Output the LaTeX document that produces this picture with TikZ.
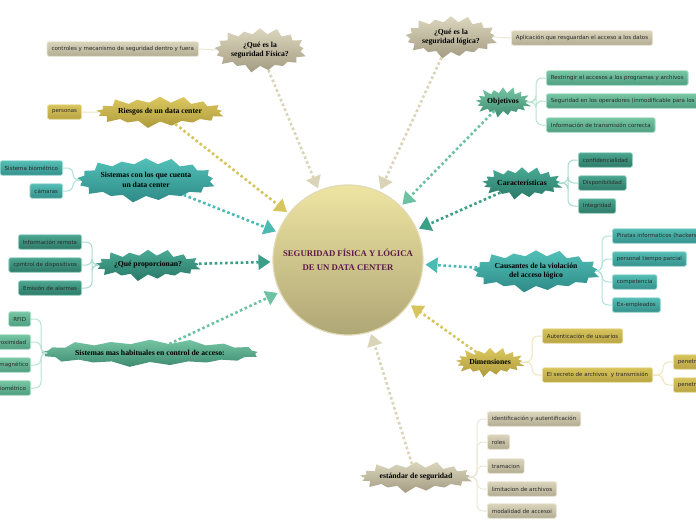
\documentclass[tikz,border=0pt]{standalone}
\usepackage{fontspec}
\setmainfont{DejaVu Sans}
\newfontfamily\titlefont{Liberation Serif}
\usetikzlibrary{shapes.symbols,arrows.meta,calc}

\definecolor{bgT}{HTML}{DCD6BE}\definecolor{bgB}{HTML}{A39C82}
\definecolor{bgLT}{HTML}{DAD4BC}\definecolor{bgLB}{HTML}{B2AC92}\definecolor{bgLD}{HTML}{EAE6D4}
\definecolor{bgA}{HTML}{DAD4B8}\definecolor{bgS}{HTML}{ECE8D8}
\definecolor{gdT}{HTML}{DCC860}\definecolor{gdB}{HTML}{AE9A3A}
\definecolor{gdLT}{HTML}{D8C45C}\definecolor{gdLB}{HTML}{B8A444}\definecolor{gdLD}{HTML}{EADFA0}
\definecolor{gdA}{HTML}{D6C45C}\definecolor{gdS}{HTML}{EEE6BC}
\definecolor{gnT}{HTML}{74C5A4}\definecolor{gnB}{HTML}{3F8B70}
\definecolor{gnLT}{HTML}{76C6A4}\definecolor{gnLB}{HTML}{4E9E80}\definecolor{gnLD}{HTML}{AADDC8}
\definecolor{gnA}{HTML}{6CC2A2}\definecolor{gnS}{HTML}{B8E4D2}
\definecolor{tlT}{HTML}{52C0B8}\definecolor{tlB}{HTML}{2E8A86}
\definecolor{tlLT}{HTML}{54BEB5}\definecolor{tlLB}{HTML}{35908A}\definecolor{tlLD}{HTML}{A0DAD4}
\definecolor{tlA}{HTML}{4BBAB2}\definecolor{tlS}{HTML}{B0E2DE}
\definecolor{dtT}{HTML}{49AA94}\definecolor{dtB}{HTML}{2A7868}
\definecolor{dtLT}{HTML}{4AA690}\definecolor{dtLB}{HTML}{2E7A68}\definecolor{dtLD}{HTML}{98D0C2}
\definecolor{dtA}{HTML}{3B9F88}\definecolor{dtS}{HTML}{A8DCCE}
\definecolor{cT}{HTML}{EEE4A2}\definecolor{cB}{HTML}{AFA676}\definecolor{cD}{HTML}{E2DAB4}
\definecolor{ttl}{HTML}{5C1848}\definecolor{txt}{HTML}{2A2A2A}

\newcommand\burstfont{\titlefont\bfseries\fontsize{7.7}{9.5}\selectfont}
\newcommand\leaffont{\fontsize{5.5}{6}\selectfont}

\tikzset{
  burst/.style={starburst, starburst point height=8pt, inner sep=0pt, align=center,
    font=\burstfont, text=black},
  leaf/.style={rectangle, rounded corners=2pt, inner xsep=4.5pt, inner ysep=0pt,
    minimum height=14.5pt, font=\leaffont, text=txt, line width=0.8pt},
  bgBurst/.style={burst, top color=bgT, bottom color=bgB},
  gdBurst/.style={burst, top color=gdT, bottom color=gdB},
  gnBurst/.style={burst, top color=gnT, bottom color=gnB},
  tlBurst/.style={burst, top color=tlT, bottom color=tlB},
  dtBurst/.style={burst, top color=dtT, bottom color=dtB},
  bgLeaf/.style={leaf, top color=bgLT, bottom color=bgLB, draw=bgLD},
  gdLeaf/.style={leaf, top color=gdLT, bottom color=gdLB, draw=gdLD},
  gnLeaf/.style={leaf, top color=gnLT, bottom color=gnLB, draw=gnLD},
  tlLeaf/.style={leaf, top color=tlLT, bottom color=tlLB, draw=tlLD},
  dtLeaf/.style={leaf, top color=dtLT, bottom color=dtLB, draw=dtLD},
  mainline/.style={line width=2.6pt, dash pattern=on 2.6pt off 2.6pt,
    -{Triangle[length=12pt,width=15pt]}, shorten >=2pt},
  subline/.style={line width=1pt, rounded corners=6pt},
}

\begin{document}
\begin{tikzpicture}[x=1pt,y=-1pt]
\useasboundingbox (0,0) rectangle (696,520);
\clip (0,0) rectangle (696,520);
\fill[white] (0,0) rectangle (696,520);

% central node
\node[circle, minimum size=150pt, top color=cT, bottom color=cB, draw=cD, line width=1.2pt,
  align=center, text=ttl, font=\titlefont\bfseries\fontsize{8.7}{14}\selectfont]
  (C) at (348,260) {SEGURIDAD FÍSICA Y LÓGICA\\DE UN DATA CENTER};

% starbursts
\node[bgBurst, minimum width=86pt, minimum height=48pt] (fis) at (260,50) {¿Qué es la\\seguridad Física?};
\node[bgBurst, minimum width=84pt, minimum height=46pt] (log) at (451,37) {¿Qué es la\\seguridad lógica?};
\node[gdBurst, minimum width=114pt, minimum height=35pt] (ries) at (160,112) {Riesgos de un data center};
\node[gnBurst, minimum width=50pt, minimum height=34pt] (obj) at (503,102) {Objetivos};
\node[tlBurst, minimum width=128pt, minimum height=48pt] (sis) at (146,180) {Sistemas con los que cuenta\\un data center};
\node[dtBurst, minimum width=78pt, minimum height=36pt] (car) at (522,183) {Características};
\node[dtBurst, minimum width=92pt, minimum height=35pt] (prop) at (148,265) {¿Qué proporcionan?};
\node[tlBurst, minimum width=112pt, minimum height=46pt] (cau) at (536,271) {Causantes de la violación\\del acceso lógico};
\node[gnBurst, starburst point height=6pt, minimum width=198pt, minimum height=30pt] (hab) at (150,353) {Sistemas mas habituales en control de acceso:};
\node[gdBurst, minimum width=62pt, minimum height=33pt] (dim) at (490,362) {Dimensiones};
\node[bgBurst, minimum width=102pt, minimum height=35pt] (est) at (416,477) {estándar de seguridad};

% leaves
\node[bgLeaf, anchor=east] (c1) at (199,49) {controles y mecanismo de seguridad dentro y fuera};
\node[bgLeaf, anchor=west] (l1) at (511,38) {Aplicación que resguardan el acceso a los datos};
\node[gdLeaf, anchor=east] (r1) at (82,112) {personas};
\node[gnLeaf, anchor=west] (o1) at (546,78) {Restringir el accesos a los programas y archivos};
\node[gnLeaf, anchor=west] (o2) at (546,101) {Seguridad en los operadores (inmodificable para los\hspace*{10pt}};
\node[gnLeaf, anchor=west] (o3) at (546,125) {Información de transmisión correcta};
\node[tlLeaf, anchor=east] (s1) at (63,168) {Sistema biométrico};
\node[tlLeaf, anchor=east] (s2) at (63,191) {cámaras};
\node[dtLeaf, anchor=west] (ca1) at (578,160) {confidencialidad};
\node[dtLeaf, anchor=west] (ca2) at (578,183) {Disponibilidad};
\node[dtLeaf, anchor=west] (ca3) at (578,206) {Integridad};
\node[dtLeaf, anchor=east] (p1) at (82,242) {Información remota};
\node[dtLeaf, anchor=east] (p2) at (82,265) {cpmtrol de dispositivos};
\node[dtLeaf, anchor=east] (p3) at (82,288) {Emisión de alarmas};
\node[tlLeaf, anchor=west] (cu1) at (612,236) {Piratas informaticos (hackers\hspace*{10pt}};
\node[tlLeaf, anchor=west] (cu2) at (612,259) {personal tiempo parcial};
\node[tlLeaf, anchor=west] (cu3) at (612,282) {competencia};
\node[tlLeaf, anchor=west] (cu4) at (612,305) {Ex-empleados};
\node[gnLeaf, anchor=east] (h1) at (31,319) {RFID};
\node[gnLeaf, anchor=east] (h2) at (31,342) {\hspace*{10pt}roximidad};
\node[gnLeaf, anchor=east, inner xsep=2pt] (h3) at (31,365) {\hspace*{12pt}magnético};
\node[gnLeaf, anchor=east] (h4) at (31,388) {\hspace*{10pt}iométrico};
\node[gdLeaf, anchor=west] (d1) at (542,336) {Autenticación de usuarios};
\node[gdLeaf, anchor=west] (d2) at (542,375) {El secreto de archivos\ \ y transmisión};
\node[gdLeaf, anchor=west] (dd1) at (673,362) {penetr\hspace*{10pt}};
\node[gdLeaf, anchor=west] (dd2) at (673,385) {penetr\hspace*{10pt}};
\node[bgLeaf, anchor=west] (e1) at (487,419) {identificación y autentificación};
\node[bgLeaf, anchor=west] (e2) at (487,442) {roles};
\node[bgLeaf, anchor=west] (e3) at (487,466) {tramacion};
\node[bgLeaf, anchor=west] (e4) at (487,489) {limitacion de archivos};
\node[bgLeaf, anchor=west] (e5) at (487,511) {modalidad de accesoi};

% sub connectors
\draw[subline, bgS] (fis.west) -- (c1.east);
\draw[subline, bgS] (log.east) -- (l1.west);
\draw[subline, gdS] (ries.west) -- (r1.east);
\foreach \c in {o1,o2,o3}
  \draw[subline, gnS] (obj.east) -- ($(obj.east -| \c.west)+(-10,0)$) |- (\c.west);
\foreach \c in {s1,s2}
  \draw[subline, tlS] (sis.west) -- ($(sis.west -| \c.east)+(10,0)$) |- (\c.east);
\foreach \c in {ca1,ca2,ca3}
  \draw[subline, dtS] (car.east) -- ($(car.east -| \c.west)+(-10,0)$) |- (\c.west);
\foreach \c in {p1,p2,p3}
  \draw[subline, dtS] (prop.west) -- ($(prop.west -| \c.east)+(10,0)$) |- (\c.east);
\foreach \c in {cu1,cu2,cu3,cu4}
  \draw[subline, tlS] (cau.east) -- ($(cau.east -| \c.west)+(-10,0)$) |- (\c.west);
\foreach \c in {h1,h2,h3,h4}
  \draw[subline, gnS] (hab.west) -- ($(hab.west -| \c.east)+(10,0)$) |- (\c.east);
\foreach \c in {d1,d2}
  \draw[subline, gdS] (dim.east) -- ($(dim.east -| \c.west)+(-10,0)$) |- (\c.west);
\foreach \c in {dd1,dd2}
  \draw[subline, gdS] (d2.east) -- ($(d2.east -| \c.west)+(-10,0)$) |- (\c.west);
\foreach \c in {e1,e2,e3,e4,e5}
  \draw[subline, bgS] (est.east) -- ($(est.east -| \c.west)+(-10,0)$) |- (\c.west);

% main connectors
\draw[mainline, bgA] (fis) -- (C);
\draw[mainline, bgA] (log) -- (C);
\draw[mainline, gdA] (ries) -- (C);
\draw[mainline, gnA] (obj) -- (C);
\draw[mainline, tlA] (sis) -- (C);
\draw[mainline, dtA] (car) -- (C);
\draw[mainline, dtA] (prop) -- (C);
\draw[mainline, tlA] (cau) -- (C);
\draw[mainline, gnA] (hab) -- (C);
\draw[mainline, gdA] (dim) -- (C);
\draw[mainline, bgA] (est) -- (C);
\end{tikzpicture}
\end{document}
